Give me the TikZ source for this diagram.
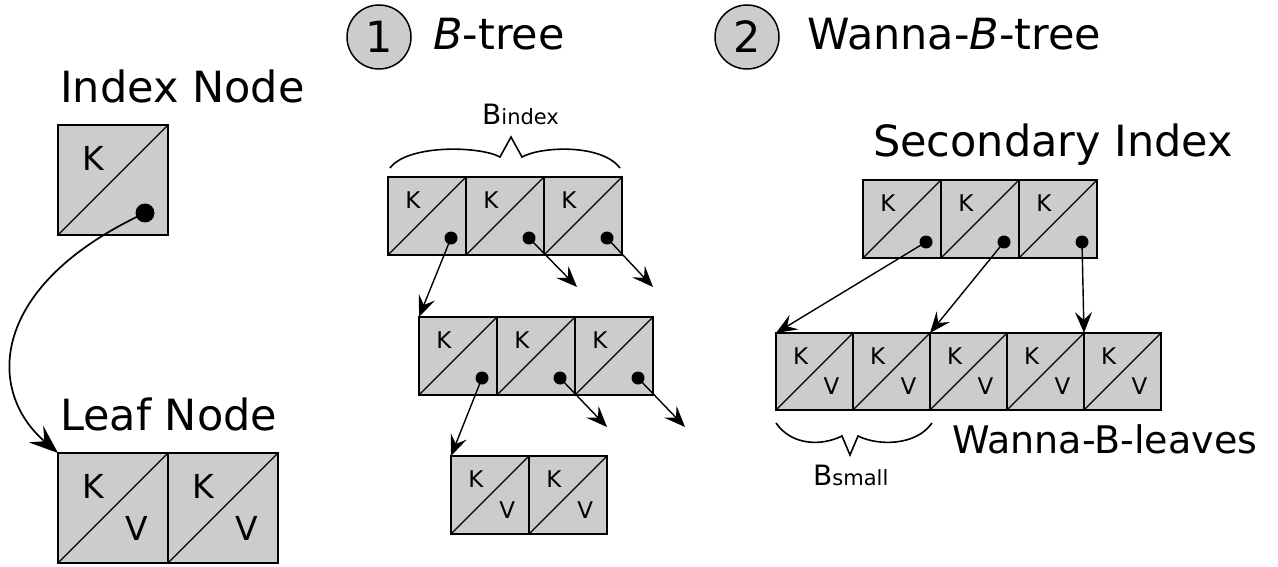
\documentclass[tikz,border=0pt]{standalone}
\usepackage{fontspec}
\setmainfont{DejaVu Sans}
\usetikzlibrary{positioning,arrows.meta}

\definecolor{cellgray}{HTML}{CCCCCC}

\newcommand{\cellfont}{\fontsize{23}{23}\selectfont}

\tikzset{
  box/.style={draw=black, fill=cellgray, line width=1.6pt, outer sep=0pt,
    inner sep=0pt, minimum size=#1},
  kcell/.style={box=#1, path picture={
      \draw[line width=1.2pt] (path picture bounding box.south west) -- (path picture bounding box.north east);
      \node[font=\cellfont, anchor=center] at ([xshift=0.32*#1, yshift=-0.30*#1]path picture bounding box.north west) {K};}},
  kvcell/.style={box=#1, path picture={
      \draw[line width=1.2pt] (path picture bounding box.south west) -- (path picture bounding box.north east);
      \node[font=\cellfont, anchor=center] at ([xshift=0.32*#1, yshift=-0.30*#1]path picture bounding box.north west) {K};
      \node[font=\cellfont, anchor=center] at ([xshift=0.72*#1, yshift=-0.69*#1]path picture bounding box.north west) {V};}},
  dot/.style={circle, fill=black, inner sep=0pt, minimum size=#1},
  title/.style={font=\fontsize{43}{43}\selectfont, inner sep=0pt, anchor=base west},
  numcirc/.style={circle, draw=black, fill=cellgray, line width=1.5pt, minimum size=64pt,
    inner sep=0pt, font=\fontsize{43}{43}\selectfont},
  ptr/.style={line width=1.4pt, -{Stealth[length=21pt, width=17pt, inset=8pt]}},
  ptrbig/.style={line width=1.7pt, -{Stealth[length=29pt, width=22pt, inset=11pt]}},
  bsize/.style={font=\fontsize{28}{28}\selectfont, inner sep=0pt, anchor=base west},
}

\begin{document}
\begin{tikzpicture}[x=1pt, y=-1pt]
\useasboundingbox (0,0) rectangle (1278,567);

% Legend: index node
\renewcommand{\cellfont}{\fontsize{33}{33}\selectfont}
\node[title] (idxlbl) at (60,103) {Index Node};
\node[kcell=110pt, anchor=north west] (ix) at (58,125) {};
\node[dot=19pt] (ixd) at ([shift={(87,88)}]ix.north west) {};

% Legend: leaf node
\node[title] (leaflbl) at (60,430) {Leaf Node};
\node[kvcell=110pt, anchor=north west] (lf1) at (58,453) {};
\node[kvcell=110pt, right=0pt of lf1] (lf2) {};

\draw[ptrbig] (ixd.center) .. controls (-10,285) and (-15,390) .. (lf1.north west);

% (1) B-tree
\renewcommand{\cellfont}{\fontsize{23}{23}\selectfont}
\node[numcirc] (n1) at (379,37) {1};
\node[title] (t1) at (433,50) {\textit{B}-tree};

% top row
\node[kcell=78pt, anchor=north west] (a1) at (388,177) {};
\node[kcell=78pt, right=0pt of a1] (a2) {};
\node[kcell=78pt, right=0pt of a2] (a3) {};
\node[dot=13pt] (ad1) at ([shift={(63,61)}]a1.north west) {};
\node[dot=13pt] (ad2) at ([shift={(63,61)}]a2.north west) {};
\node[dot=13pt] (ad3) at ([shift={(63,61)}]a3.north west) {};

% brace over top row
\draw[line width=1.6pt] (390,168) .. controls (408,144) and (480,146) .. (500,157)
  -- (511,137) -- (522,157) .. controls (542,146) and (602,144) .. (620,168);
\node[bsize] (bidx) at (482,125) {B{\fontsize{21}{21}\selectfont index}};

% middle row
\node[kcell=78pt, anchor=north west] (b1) at (419,317) {};
\node[kcell=78pt, right=0pt of b1] (b2) {};
\node[kcell=78pt, right=0pt of b2] (b3) {};
\node[dot=13pt] (bd1) at ([shift={(63,61)}]b1.north west) {};
\node[dot=13pt] (bd2) at ([shift={(63,61)}]b2.north west) {};
\node[dot=13pt] (bd3) at ([shift={(63,61)}]b3.north west) {};

% leaf row
\node[kvcell=78pt, anchor=north west] (c1) at (451,456) {};
\node[kvcell=78pt, right=0pt of c1] (c2) {};

\coordinate (ae2) at (577,287);
\coordinate (ae3) at (653,287);
\coordinate (be2) at (607,427);
\coordinate (be3) at (685,427);
\draw[ptr] (ad1.center) -- (b1.north west);
\draw[ptr] (ad2.center) -- (ae2);
\draw[ptr] (ad3.center) -- (ae3);
\draw[ptr] (bd1.center) -- (c1.north west);
\draw[ptr] (bd2.center) -- (be2);
\draw[ptr] (bd3.center) -- (be3);

% (2) Wanna-B-tree
\node[numcirc] (n2) at (747,37) {2};
\node[title] (t2) at (807,50) {Wanna-\textit{B}-tree};

% secondary index
\node[title] (seclbl) at (873,157) {Secondary Index};
\node[kcell=78pt, anchor=north west] (s1) at (863,180) {};
\node[kcell=78pt, right=0pt of s1] (s2) {};
\node[kcell=78pt, right=0pt of s2] (s3) {};
\node[dot=13pt] (sd1) at ([shift={(63,62)}]s1.north west) {};
\node[dot=13pt] (sd2) at ([shift={(63,62)}]s2.north west) {};
\node[dot=13pt] (sd3) at ([shift={(63,62)}]s3.north west) {};

% wanna-b leaves
\node[kvcell=77pt, anchor=north west] (w1) at (776,333) {};
\node[kvcell=77pt, right=0pt of w1] (w2) {};
\node[kvcell=77pt, right=0pt of w2] (w3) {};
\node[kvcell=77pt, right=0pt of w3] (w4) {};
\node[kvcell=77pt, right=0pt of w4] (w5) {};

\draw[ptr] (sd1.center) -- (w1.north west);
\draw[ptr] (sd2.center) -- (w3.north west);
\draw[ptr] (sd3.center) -- (w5.north west);

% brace under two leaves
\draw[line width=1.6pt] (776,423) .. controls (792,446) and (822,446) .. (842,436)
  -- (850,455) -- (858,436) .. controls (878,446) and (916,446) .. (932,423);
\node[bsize] (bsml) at (813,485) {B{\fontsize{21}{21}\selectfont small}};

\node[title, font=\fontsize{38}{38}\selectfont] (wlbl) at (952,453) {Wanna-B-leaves};

\end{tikzpicture}
\end{document}
